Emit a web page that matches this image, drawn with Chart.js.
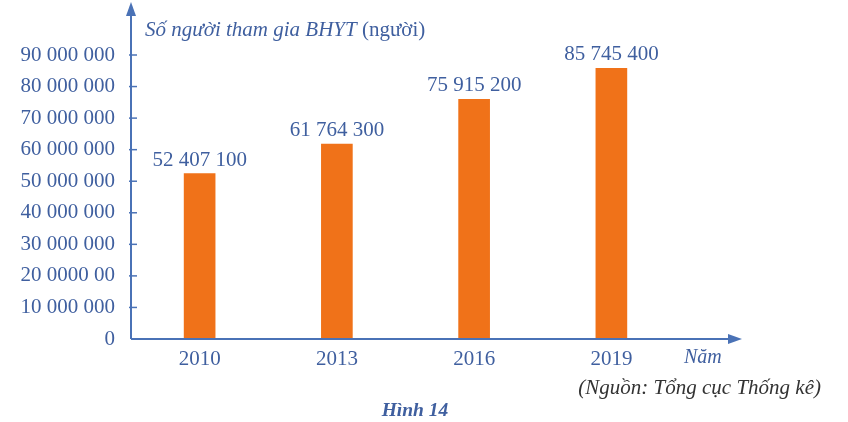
<!DOCTYPE html>
<html>
<head>
<meta charset="utf-8">
<script src="https://cdn.jsdelivr.net/npm/chart.js@4.4.1/dist/chart.umd.min.js"></script>
<style>
  html, body { margin: 0; padding: 0; background: #fff; }
  #wrap { width: 848px; height: 422px; position: relative; }
</style>
</head>
<body>
<div id="wrap"><canvas id="bhyt"></canvas></div>
<script>
// data (Hình 14)
var years = ['2010', '2013', '2016', '2019'];
var participants = [52407100, 61764300, 75915200, 85745400];
var yTickValues = [0, 10000000, 20000000, 30000000, 40000000, 50000000, 60000000, 70000000, 80000000, 90000000];
// the printed figure has "20 0000 00" for the third tick, kept as is
var yTickLabels = ['0', '10 000 000', '20 0000 00', '30 000 000', '40 000 000', '50 000 000', '60 000 000', '70 000 000', '80 000 000', '90 000 000'];

var blue = '#3f5f9f';
var axisBlue = '#4a72b6';
var orange = '#f07219';
var serif = "'Liberation Serif', 'Times New Roman', serif";

function spaced(n) {
    return String(n).replace(/\B(?=(\d{3})+(?!\d))/g, ' ');
}

var decorations = {
    id: 'decorations',
    afterDraw: function (chart) {
        var c = chart.ctx;
        var area = chart.chartArea;
        var yScale = chart.scales.y;
        var meta = chart.getDatasetMeta(0);
        c.save();

        // axes with arrows
        c.strokeStyle = axisBlue;
        c.fillStyle = axisBlue;
        c.lineWidth = 2;
        c.beginPath();
        c.moveTo(area.left, area.bottom);
        c.lineTo(area.left, 12);
        c.moveTo(area.left, area.bottom);
        c.lineTo(732, area.bottom);
        c.stroke();
        c.beginPath();
        c.moveTo(area.left, 2);
        c.lineTo(area.left - 5, 16);
        c.lineTo(area.left + 5, 16);
        c.closePath();
        c.fill();
        c.beginPath();
        c.moveTo(742, area.bottom);
        c.lineTo(728, area.bottom - 5);
        c.lineTo(728, area.bottom + 5);
        c.closePath();
        c.fill();

        // small tick marks on y axis
        c.lineWidth = 1.5;
        yTickValues.forEach(function (v) {
            if (v === 0) return;
            var py = yScale.getPixelForValue(v);
            c.beginPath();
            c.moveTo(area.left - 2, py);
            c.lineTo(area.left + 6, py);
            c.stroke();
        });

        // value labels above bars
        c.fillStyle = blue;
        c.font = '21px ' + serif;
        c.textAlign = 'center';
        c.textBaseline = 'alphabetic';
        meta.data.forEach(function (bar, i) {
            c.fillText(spaced(participants[i]), bar.x, bar.y - 8);
        });

        // axis titles
        c.textAlign = 'left';
        c.font = 'italic 21px ' + serif;
        var t1 = 'Số người tham gia BHYT';
        c.fillText(t1, 145, 36);
        var w1 = c.measureText(t1).width;
        c.font = '21px ' + serif;
        c.fillText(' (người)', 145 + w1, 36);

        c.font = 'italic 20px ' + serif;
        c.fillText('Năm', 684, 363);

        // source and caption
        c.fillStyle = '#333333';
        c.font = 'italic 21px ' + serif;
        c.textAlign = 'right';
        c.fillText('(Nguồn: Tổng cục Thống kê)', 821, 394);

        c.fillStyle = blue;
        c.font = 'italic bold 19.5px ' + serif;
        c.textAlign = 'center';
        c.fillText('Hình 14', 415, 416);
        c.restore();
    }
};

var ctx = document.getElementById('bhyt');

var chartGraph = new Chart(ctx, {
    type: 'bar',
    data: {
        labels: years,
        datasets: [{
            label: 'Số người tham gia BHYT',
            data: participants,
            backgroundColor: orange,
            borderWidth: 0,
            barThickness: 31
        }]
    },
    options: {
        responsive: true,
        maintainAspectRatio: false,
        animation: false,
        devicePixelRatio: 1,
        layout: {
            padding: { top: 55, right: 168, bottom: 0, left: 0 }
        },
        plugins: {
            legend: { display: false },
            tooltip: { enabled: false }
        },
        scales: {
            x: {
                grid: { display: false, drawTicks: false },
                border: { display: false },
                ticks: {
                    color: blue,
                    padding: 8,
                    font: { family: serif, size: 21 }
                },
                afterFit: function (s) { s.height = 83; }
            },
            y: {
                min: 0,
                max: 90000000,
                grid: { display: false, drawTicks: false },
                border: { display: false },
                afterBuildTicks: function (s) {
                    s.ticks = yTickValues.map(function (v) { return { value: v }; });
                },
                ticks: {
                    color: blue,
                    padding: 16,
                    font: { family: serif, size: 21 },
                    callback: function (v, i) { return yTickLabels[i]; }
                },
                afterFit: function (s) { s.width = 131; }
            }
        }
    },
    plugins: [decorations]
});
</script>
</body>
</html>
